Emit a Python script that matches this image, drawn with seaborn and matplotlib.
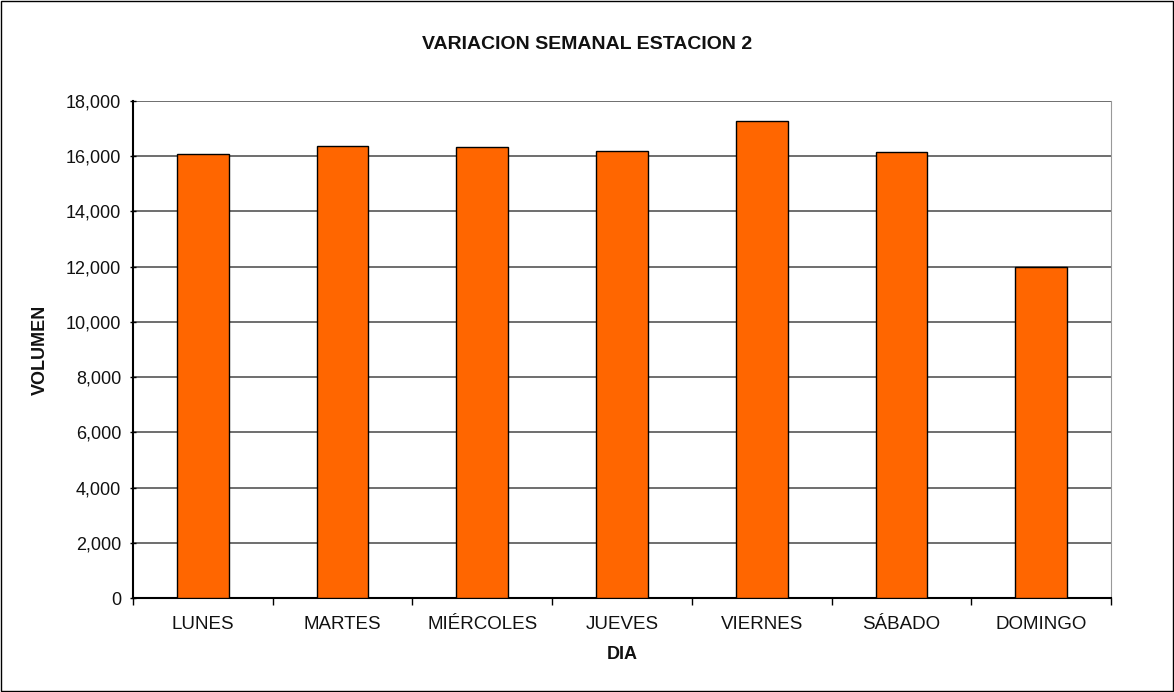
import matplotlib
matplotlib.use("Agg")
import matplotlib.pyplot as plt
import seaborn as sns
import pandas as pd
from matplotlib.ticker import FuncFormatter, FixedLocator
from matplotlib.patches import Rectangle

# Data
dias = ["LUNES", "MARTES", "MIÉRCOLES", "JUEVES", "VIERNES", "SÁBADO", "DOMINGO"]
volumen = [16070, 16380, 16330, 16200, 17290, 16150, 12000]

df = pd.DataFrame({"dia": dias, "volumen": volumen})

sns.set_style("white")
plt.rcParams['font.family'] = ['Liberation Sans', 'DejaVu Sans']

fig = plt.figure(figsize=(11.74, 6.92), dpi=100)
ax = fig.add_axes([0.1133, 0.1358, 0.8330, 0.7182])

sns.barplot(data=df, x="dia", y="volumen", color="#FF6600", edgecolor="black",
            linewidth=1, width=0.37, saturation=1, ax=ax, zorder=3)

ax.set_ylim(0, 18000)
ax.set_xlim(-0.5, len(dias) - 0.5)
ax.set_yticks(range(0, 18001, 2000))
ax.yaxis.set_major_formatter(FuncFormatter(lambda v, p: f"{int(v):,}"))
ax.yaxis.grid(True, color="#555555", linewidth=1.2, zorder=0)
ax.set_axisbelow(True)

# x ticks at category boundaries, labels centred
ax.xaxis.set_minor_locator(FixedLocator([i - 0.5 for i in range(len(dias) + 1)]))
ax.tick_params(axis="x", which="major", length=0, pad=13, labelsize=13.5, labelcolor="#111111")
ax.tick_params(axis="x", which="minor", length=5, width=1, direction="out", color="black", bottom=True)
ax.tick_params(axis="y", length=5, width=1, direction="inout", color="black", left=True,
               labelsize=13, pad=6, labelcolor="#111111")

for s in ["left", "bottom"]:
    ax.spines[s].set_color("black")
    ax.spines[s].set_linewidth(1.5)
ax.spines["right"].set_color("#999999")
ax.spines["top"].set_visible(False)

ax.set_xlabel("DIA", fontsize=13, fontweight="bold", labelpad=9, color="#111111")
ax.set_ylabel("VOLUMEN", fontsize=13, fontweight="bold", labelpad=12, color="#111111")
fig.text(0.5, 0.935, "VARIACION SEMANAL ESTACION 2", ha="center", va="center",
         fontsize=14, fontweight="bold", color="#111111")

fig.patches.append(Rectangle((0.001, 0.001), 0.998, 0.998, transform=fig.transFigure,
                             fill=False, edgecolor="black", linewidth=1))

fig.savefig("out.png", dpi=100)
